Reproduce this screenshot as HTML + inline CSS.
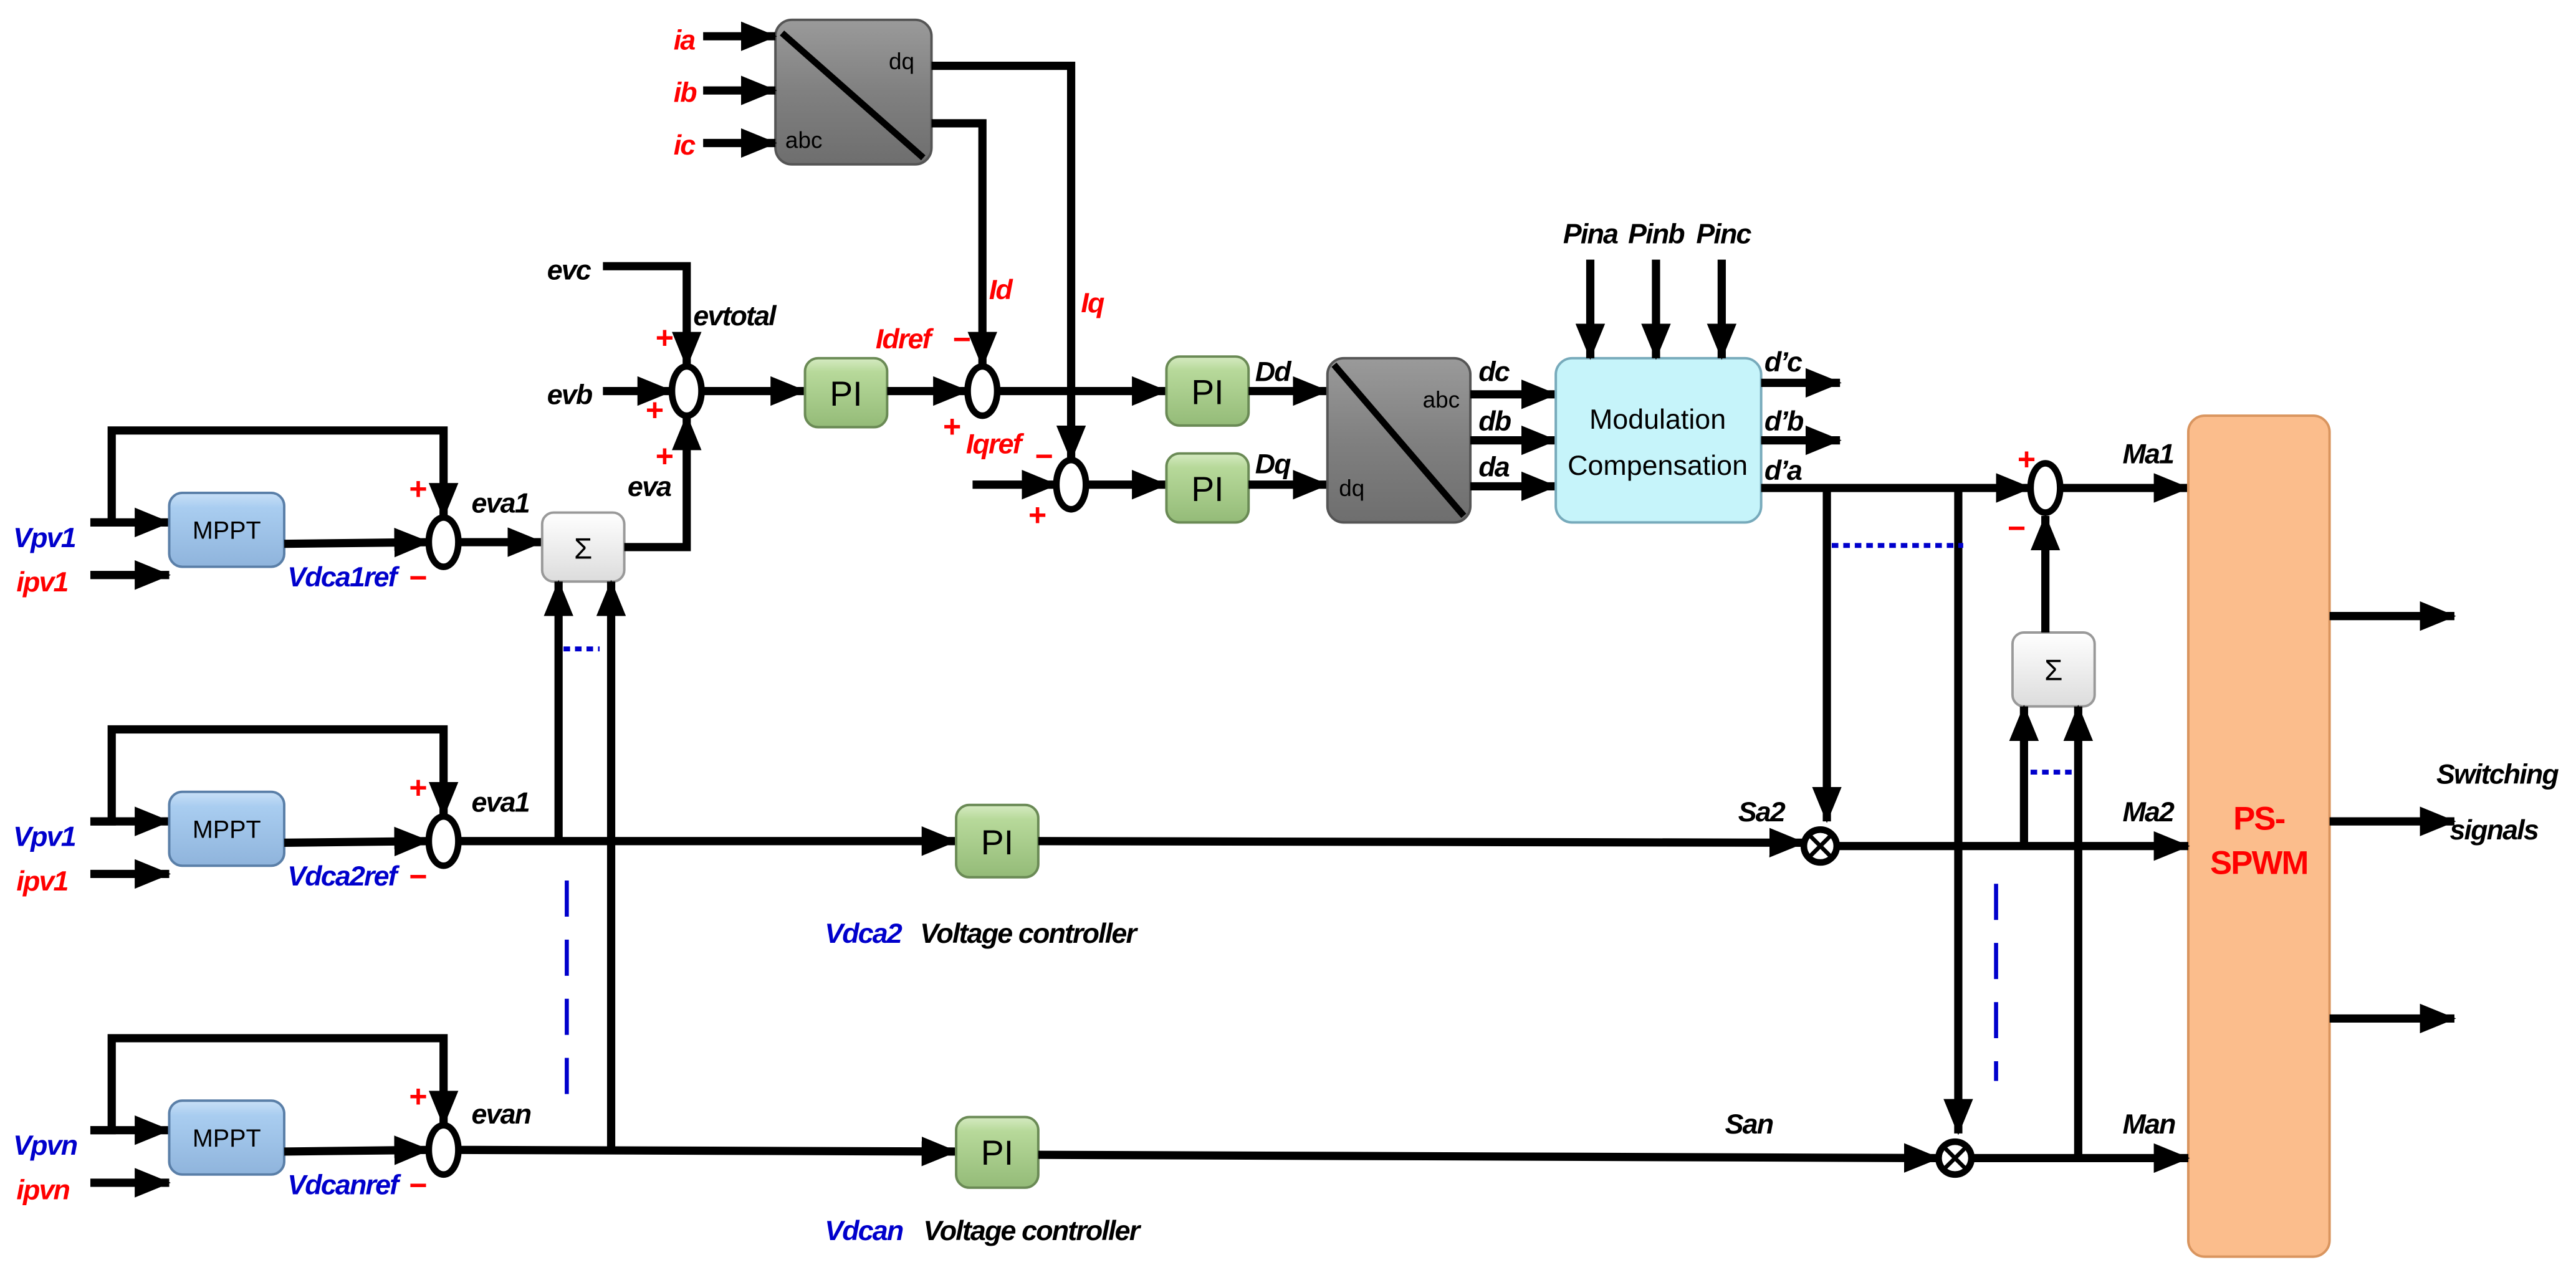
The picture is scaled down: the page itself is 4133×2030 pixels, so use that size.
<!DOCTYPE html>
<html><head><meta charset="utf-8"><style>html,body{margin:0;padding:0;background:#fff}svg{display:block}</style></head><body>
<svg xmlns="http://www.w3.org/2000/svg" width="4133" height="2030" viewBox="0 0 1568 770">
<defs>
<marker id="a" markerWidth="22" markerHeight="18" refX="21" refY="9" orient="auto" markerUnits="userSpaceOnUse"><path d="M0,0 L22,9 L0,18z" fill="#000"/></marker>
<linearGradient id="gb" x1="0" y1="0" x2="0" y2="1"><stop offset="0" stop-color="#c9e0f7"/><stop offset="0.2" stop-color="#a9cdf0"/><stop offset="1" stop-color="#8fb4dc"/></linearGradient>
<linearGradient id="gg" x1="0" y1="0" x2="0" y2="1"><stop offset="0" stop-color="#d6ebc2"/><stop offset="0.2" stop-color="#b7d99a"/><stop offset="1" stop-color="#94bb78"/></linearGradient>
<linearGradient id="gy" x1="0" y1="0" x2="0" y2="1"><stop offset="0" stop-color="#9a9a9a"/><stop offset="0.5" stop-color="#808080"/><stop offset="1" stop-color="#6e6e6e"/></linearGradient>
<linearGradient id="gw" x1="0" y1="0" x2="0" y2="1"><stop offset="0" stop-color="#fff"/><stop offset="1" stop-color="#dcdcdc"/></linearGradient>
</defs>
<style>
text{font-family:"Liberation Sans",sans-serif;font-weight:bold;font-style:italic;font-size:17px;letter-spacing:-0.7px}
.r{fill:#f00}.b{fill:#00c}.k{fill:#000}
.n{font-style:normal;font-weight:normal;letter-spacing:0}
line,polyline,path.w{stroke:#000;stroke-width:5;fill:none}
.sj{fill:#fff;stroke:#000;stroke-width:4}
.pm{fill:#f00;font-style:normal;font-size:19px}
.pi{font-style:normal;font-weight:normal;font-size:21px;letter-spacing:0}
</style>

<!-- top abc/dq -->
<rect x="472" y="12" width="95" height="88" rx="10" fill="url(#gy)" stroke="#555" stroke-width="1.5"/>
<line x1="476" y1="20" x2="562" y2="96" style="stroke-width:4"/>
<text x="541" y="42" class="n" style="font-size:14px">dq</text>
<text x="478" y="90" class="n" style="font-size:14px">abc</text>
<text x="410" y="30" class="r">ia</text><text x="410" y="62" class="r">ib</text><text x="410" y="94" class="r">ic</text>
<line x1="428" y1="22" x2="472" y2="22" marker-end="url(#a)"/>
<line x1="428" y1="55" x2="472" y2="55" marker-end="url(#a)"/>
<line x1="428" y1="87" x2="472" y2="87" marker-end="url(#a)"/>
<polyline points="567,40 652,40 652,280" marker-end="url(#a)"/>
<polyline points="567,75 598,75 598,223" marker-end="url(#a)"/>
<text x="602" y="182" class="r">Id</text><text x="658" y="190" class="r">Iq</text>

<!-- evtotal junction -->
<text x="333" y="170" class="k">evc</text><text x="333" y="246" class="k">evb</text>
<polyline points="367,162 418,162 418,223" marker-end="url(#a)"/>
<line x1="367" y1="238" x2="409" y2="238" marker-end="url(#a)"/>
<ellipse cx="418" cy="238" rx="9" ry="15" class="sj"/>
<text x="399" y="212" class="pm">+</text><text x="393" y="256" class="pm">+</text><text x="399" y="284" class="pm">+</text>
<text x="422" y="198" class="k">evtotal</text>
<line x1="427" y1="238" x2="490" y2="238" marker-end="url(#a)"/>
<rect x="490" y="218" width="50" height="42" rx="8" fill="url(#gg)" stroke="#6a8a55" stroke-width="1.5"/>
<text x="515" y="247" class="pi" text-anchor="middle">PI</text>
<text x="533" y="212" class="r">Idref</text>
<line x1="540" y1="238" x2="589" y2="238" marker-end="url(#a)"/>
<ellipse cx="598" cy="238" rx="9" ry="15" class="sj"/>
<text x="580" y="213" class="pm">−</text><text x="574" y="266" class="pm">+</text>
<line x1="607" y1="238" x2="710" y2="238" marker-end="url(#a)"/>
<rect x="710" y="217" width="50" height="42" rx="8" fill="url(#gg)" stroke="#6a8a55" stroke-width="1.5"/>
<text x="735" y="246" class="pi" text-anchor="middle">PI</text>
<text x="764" y="232" class="k">Dd</text>
<line x1="760" y1="238" x2="808" y2="238" marker-end="url(#a)"/>

<text x="588" y="276" class="r">Iqref</text>
<line x1="592" y1="295" x2="643" y2="295" marker-end="url(#a)"/>
<ellipse cx="652" cy="295" rx="9" ry="15" class="sj"/>
<text x="630" y="284" class="pm">−</text><text x="626" y="320" class="pm">+</text>
<line x1="661" y1="295" x2="710" y2="295" marker-end="url(#a)"/>
<rect x="710" y="276" width="50" height="42" rx="8" fill="url(#gg)" stroke="#6a8a55" stroke-width="1.5"/>
<text x="735" y="305" class="pi" text-anchor="middle">PI</text>
<text x="764" y="288" class="k">Dq</text>
<line x1="760" y1="295" x2="808" y2="295" marker-end="url(#a)"/>

<!-- second dq/abc -->
<rect x="808" y="218" width="87" height="100" rx="10" fill="url(#gy)" stroke="#555" stroke-width="1.5"/>
<line x1="812" y1="222" x2="891" y2="314" style="stroke-width:4"/>
<text x="866" y="248" class="n" style="font-size:14px">abc</text>
<text x="815" y="302" class="n" style="font-size:14px">dq</text>
<text x="900" y="232" class="k">dc</text><text x="900" y="262" class="k">db</text><text x="900" y="290" class="k">da</text>
<line x1="895" y1="240" x2="947" y2="240" marker-end="url(#a)"/>
<line x1="895" y1="268" x2="947" y2="268" marker-end="url(#a)"/>
<line x1="895" y1="296" x2="947" y2="296" marker-end="url(#a)"/>
<rect x="947" y="218" width="125" height="100" rx="10" fill="#c6f4fa" stroke="#7ab" stroke-width="1.5"/>
<text x="1009" y="261" class="n" text-anchor="middle" style="font-size:17px">Modulation</text>
<text x="1009" y="289" class="n" text-anchor="middle" style="font-size:17px">Compensation</text>
<text x="968" y="148" class="k" text-anchor="middle">Pina</text><text x="1008" y="148" class="k" text-anchor="middle">Pinb</text><text x="1049" y="148" class="k" text-anchor="middle">Pinc</text>
<line x1="968" y1="158" x2="968" y2="218" marker-end="url(#a)"/>
<line x1="1008" y1="158" x2="1008" y2="218" marker-end="url(#a)"/>
<line x1="1048" y1="158" x2="1048" y2="218" marker-end="url(#a)"/>
<text x="1074" y="226" class="k">d’c</text><text x="1074" y="262" class="k">d’b</text><text x="1074" y="292" class="k">d’a</text>
<line x1="1072" y1="233" x2="1120" y2="233" marker-end="url(#a)"/>
<line x1="1072" y1="268" x2="1120" y2="268" marker-end="url(#a)"/>
<line x1="1072" y1="297" x2="1236" y2="297" marker-end="url(#a)"/>
<ellipse cx="1245" cy="297" rx="9" ry="15" class="sj"/>
<text x="1228" y="286" class="pm">+</text><text x="1222" y="328" class="pm">−</text>
<line x1="1254" y1="297" x2="1332" y2="297" marker-end="url(#a)"/>
<text x="1292" y="282" class="k">Ma1</text>
<line x1="1112" y1="297" x2="1112" y2="500" marker-end="url(#a)"/>
<line x1="1192" y1="297" x2="1192" y2="690" marker-end="url(#a)"/>
<line x1="1115" y1="332" x2="1195" y2="332" style="stroke:#00c;stroke-width:3;stroke-dasharray:4,3"/>
<rect x="1225" y="385" width="50" height="45" rx="7" fill="url(#gw)" stroke="#999" stroke-width="1.5"/>
<text x="1250" y="414" class="n" text-anchor="middle" style="font-size:18px">Σ</text>
<line x1="1245" y1="385" x2="1245" y2="314" marker-end="url(#a)"/>
<line x1="1232" y1="515" x2="1232" y2="430" marker-end="url(#a)"/>
<line x1="1265" y1="705" x2="1265" y2="430" marker-end="url(#a)"/>
<line x1="1236" y1="470" x2="1262" y2="470" style="stroke:#00c;stroke-width:3;stroke-dasharray:4,3"/>
<line x1="1215" y1="538" x2="1215" y2="658" style="stroke:#00c;stroke-width:2.5;stroke-dasharray:22,14"/>

<!-- PS-SPWM -->
<rect x="1332" y="253" width="86" height="512" rx="10" fill="#fbbd8c" stroke="#d9955f" stroke-width="1.5"/>
<text x="1375" y="505" text-anchor="middle" class="r" style="font-style:normal;font-size:20px">PS-</text>
<text x="1375" y="532" text-anchor="middle" class="r" style="font-style:normal;font-size:20px">SPWM</text>
<line x1="1418" y1="375" x2="1494" y2="375" marker-end="url(#a)"/>
<line x1="1418" y1="500" x2="1494" y2="500" marker-end="url(#a)"/>
<line x1="1418" y1="620" x2="1494" y2="620" marker-end="url(#a)"/>
<text x="1520" y="477" text-anchor="middle" class="k">Switching</text>
<text x="1518" y="511" text-anchor="middle" class="k">signals</text>

<!-- left rows -->
<g id="row1">
<polyline points="55,318 68,318 68,262 270,262 270,315" marker-end="url(#a)"/>
<line x1="55" y1="318" x2="103" y2="318" marker-end="url(#a)"/>
<line x1="55" y1="350" x2="103" y2="350" marker-end="url(#a)"/>
<rect x="103" y="300" width="70" height="45" rx="8" fill="url(#gb)" stroke="#5a7fa8" stroke-width="1.5"/>
<text x="138" y="328" class="n" text-anchor="middle" style="font-size:15px">MPPT</text>
<line x1="173" y1="331" x2="261" y2="330" marker-end="url(#a)"/>
<ellipse cx="270" cy="330" rx="9" ry="15" class="sj"/>
<text x="249" y="304" class="pm">+</text><text x="249" y="358" class="pm">−</text>
</g>
<text x="8" y="333" class="b">Vpv1</text><text x="10" y="360" class="r">ipv1</text>
<text x="175" y="357" class="b">Vdca1ref</text>
<text x="287" y="312" class="k">eva1</text>
<line x1="279" y1="330" x2="330" y2="330" marker-end="url(#a)"/>
<rect x="330" y="312" width="50" height="42" rx="7" fill="url(#gw)" stroke="#999" stroke-width="1.5"/>
<text x="355" y="340" class="n" text-anchor="middle" style="font-size:18px">Σ</text>
<text x="382" y="302" class="k">eva</text>
<polyline points="380,333 418,333 418,253" marker-end="url(#a)"/>
<line x1="340" y1="512" x2="340" y2="354" marker-end="url(#a)"/>
<line x1="372" y1="700" x2="372" y2="354" marker-end="url(#a)"/>
<line x1="343" y1="395" x2="365" y2="395" style="stroke:#00c;stroke-width:3;stroke-dasharray:4,3"/>
<line x1="345" y1="536" x2="345" y2="676" style="stroke:#00c;stroke-width:2.5;stroke-dasharray:22,14"/>

<use href="#row1" transform="translate(0,182)"/>
<text x="8" y="515" class="b">Vpv1</text><text x="10" y="542" class="r">ipv1</text>
<text x="175" y="539" class="b">Vdca2ref</text>
<text x="287" y="494" class="k">eva1</text>
<line x1="279" y1="512" x2="582" y2="512" marker-end="url(#a)"/>
<rect x="582" y="490" width="50" height="44" rx="8" fill="url(#gg)" stroke="#6a8a55" stroke-width="1.5"/>
<text x="607" y="520" class="pi" text-anchor="middle">PI</text>
<line x1="632" y1="512" x2="1098" y2="513" marker-end="url(#a)"/>
<text x="1058" y="500" class="k">Sa2</text>
<circle cx="1108" cy="515" r="10" class="sj"/>
<path d="M1101,508 L1115,522 M1115,508 L1101,522" stroke="#000" stroke-width="2.5"/>
<line x1="1118" y1="515" x2="1332" y2="515" marker-end="url(#a)"/>
<text x="1292" y="500" class="k">Ma2</text>
<text x="502" y="574" class="b">Vdca2</text><text x="560" y="574" class="k">Voltage controller</text>

<use href="#row1" transform="translate(0,370)"/>
<text x="8" y="703" class="b">Vpvn</text><text x="10" y="730" class="r">ipvn</text>
<text x="175" y="727" class="b">Vdcanref</text>
<text x="287" y="684" class="k">evan</text>
<line x1="279" y1="700" x2="582" y2="701" marker-end="url(#a)"/>
<rect x="582" y="680" width="50" height="43" rx="8" fill="url(#gg)" stroke="#6a8a55" stroke-width="1.5"/>
<text x="607" y="709" class="pi" text-anchor="middle">PI</text>
<line x1="632" y1="703" x2="1180" y2="705" marker-end="url(#a)"/>
<text x="1050" y="690" class="k">San</text>
<circle cx="1190" cy="705" r="10" class="sj"/>
<path d="M1183,698 L1197,712 M1197,698 L1183,712" stroke="#000" stroke-width="2.5"/>
<line x1="1200" y1="705" x2="1332" y2="705" marker-end="url(#a)"/>
<text x="1292" y="690" class="k">Man</text>
<text x="502" y="755" class="b">Vdcan</text><text x="562" y="755" class="k">Voltage controller</text>
</svg>
</body></html>
